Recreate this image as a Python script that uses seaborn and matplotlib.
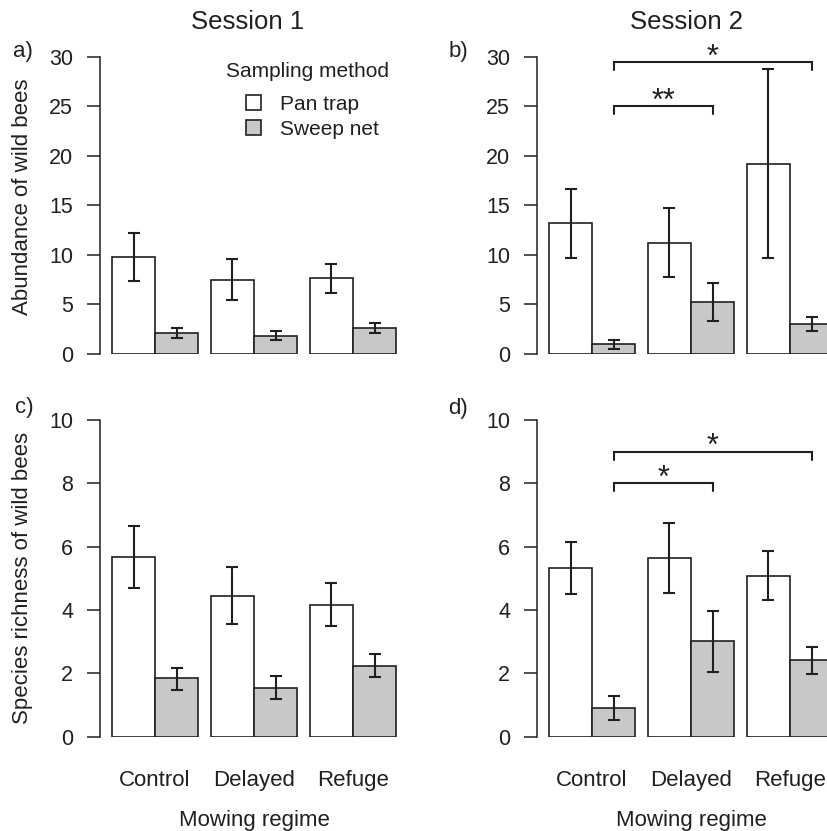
import numpy as np
import pandas as pd
import matplotlib
matplotlib.use("Agg")
import matplotlib.pyplot as plt
from matplotlib.container import BarContainer
import seaborn as sns

# categories
regimes = ["Control", "Delayed", "Refuge"]
methods = ["Pan trap", "Sweep net"]

# a) abundance, session 1
a_pan = [9.8, 7.5, 7.65]
a_pan_lo = [7.4, 5.45, 6.2]
a_pan_hi = [12.2, 9.6, 9.1]
a_sweep = [2.15, 1.85, 2.6]
a_sweep_lo = [1.65, 1.4, 2.15]
a_sweep_hi = [2.6, 2.35, 3.15]

# b) abundance, session 2
b_pan = [13.2, 11.25, 19.2]
b_pan_lo = [9.7, 7.8, 9.65]
b_pan_hi = [16.7, 14.75, 28.8]
b_sweep = [0.98, 5.25, 3.05]
b_sweep_lo = [0.55, 3.3, 2.3]
b_sweep_hi = [1.4, 7.2, 3.75]

# c) species richness, session 1
c_pan = [5.68, 4.45, 4.16]
c_pan_lo = [4.7, 3.56, 3.5]
c_pan_hi = [6.64, 5.37, 4.84]
c_sweep = [1.84, 1.55, 2.24]
c_sweep_lo = [1.48, 1.18, 1.89]
c_sweep_hi = [2.18, 1.92, 2.61]

# d) species richness, session 2
d_pan = [5.33, 5.64, 5.08]
d_pan_lo = [4.52, 4.53, 4.31]
d_pan_hi = [6.16, 6.75, 5.86]
d_sweep = [0.92, 3.01, 2.42]
d_sweep_lo = [0.53, 2.04, 1.98]
d_sweep_hi = [1.29, 3.96, 2.84]

# significance brackets (sweep net: Control vs other regime)
b_brackets = [("Delayed", 25.0, "**"), ("Refuge", 29.5, "*")]
d_brackets = [("Delayed", 8.0, "*"), ("Refuge", 9.0, "*")]

abund_ticks = [0, 5, 10, 15, 20, 25, 30]
rich_ticks = [0, 2, 4, 6, 8, 10]

DARK = "#231f20"
GREY = "#c8c8c8"

sns.set_style("ticks")
plt.rcParams["font.family"] = ["Liberation Sans", "DejaVu Sans"]
plt.rcParams["text.color"] = DARK
plt.rcParams["axes.labelcolor"] = DARK
plt.rcParams["xtick.color"] = DARK
plt.rcParams["ytick.color"] = DARK
plt.rcParams["axes.edgecolor"] = DARK

W, H = 827, 831
fig = plt.figure(figsize=(W / 100, H / 100), dpi=100)


def px_axes(left, top, bottom, width=302.5):
    return fig.add_axes([left / W, (H - bottom) / H, width / W, (bottom - top) / H])


def draw_panel(ax, pan, pan_lo, pan_hi, sweep, sweep_lo, sweep_hi, ticks,
               show_legend=False, brackets=None, drop=0.0):
    df = pd.DataFrame({
        "regime": regimes * 2,
        "method": [methods[0]] * 3 + [methods[1]] * 3,
        "value": list(pan) + list(sweep),
    })
    sns.barplot(data=df, x="regime", y="value", hue="method", order=regimes,
                hue_order=methods, palette=["white", GREY], saturation=1,
                edgecolor=DARK, linewidth=1.2, width=0.87, errorbar=None,
                legend=show_legend, ax=ax)

    means = [pan, sweep]
    los = [pan_lo, sweep_lo]
    his = [pan_hi, sweep_hi]
    centers = {}
    bar_conts = [c for c in ax.containers if isinstance(c, BarContainer)]
    for k, cont in enumerate(bar_conts):
        xs = [b.get_x() + b.get_width() / 2 for b in cont]
        centers[methods[k]] = dict(zip(regimes, xs))
        m = np.array(means[k])
        ax.errorbar(xs, m, yerr=[m - np.array(los[k]), np.array(his[k]) - m],
                    fmt="none", ecolor=DARK, elinewidth=1.5, capsize=4.6,
                    capthick=1.5, clip_on=False, zorder=5)

    ax.set_xlim(-0.556, 2.5)
    ax.set_ylim(ticks[0], ticks[-1])
    ax.set_yticks(ticks)
    sns.despine(ax=ax, bottom=True)
    ax.spines["left"].set_bounds(ticks[0], ticks[-1])
    ax.spines["left"].set_linewidth(1.1)
    ax.tick_params(axis="y", length=9.4, width=1.1, pad=10, labelsize=15.5)
    ax.tick_params(axis="x", length=0, pad=24, labelsize=16)
    ax.set_xlabel("")
    ax.set_ylabel("")

    if brackets:
        x0 = centers["Sweep net"]["Control"]
        for reg, y, lab in brackets:
            x1 = centers["Sweep net"][reg]
            ax.plot([x0, x0, x1, x1], [y - drop, y, y, y - drop], color=DARK,
                    lw=1.5, clip_on=False, solid_joinstyle="miter")
            ax.annotate(lab, xy=((x0 + x1) / 2, y), xytext=(0, -2.5),
                        textcoords="offset points", ha="center", va="baseline",
                        fontsize=22)

    if show_legend:
        handles, labels = ax.get_legend_handles_labels()
        ax.legend(handles, labels, frameon=False,
                  loc="upper center", bbox_to_anchor=(0.702, 0.908),
                  fontsize=15, handlelength=0.7,
                  handleheight=0.7, handletextpad=0.9, labelspacing=0.28,
                  borderpad=0)
        ax.text(0.6876, 0.9495, "Sampling method", transform=ax.transAxes,
                ha="center", va="center", fontsize=15)


ax_a = px_axes(100, 57, 354)
ax_b = px_axes(537, 57, 354)
ax_c = px_axes(100, 420, 736.7)
ax_d = px_axes(537, 420, 736.7)

draw_panel(ax_a, a_pan, a_pan_lo, a_pan_hi, a_sweep, a_sweep_lo, a_sweep_hi,
           abund_ticks, show_legend=True)
draw_panel(ax_b, b_pan, b_pan_lo, b_pan_hi, b_sweep, b_sweep_lo, b_sweep_hi,
           abund_ticks, brackets=b_brackets, drop=0.8)
draw_panel(ax_c, c_pan, c_pan_lo, c_pan_hi, c_sweep, c_sweep_lo, c_sweep_hi,
           rich_ticks)
draw_panel(ax_d, d_pan, d_pan_lo, d_pan_hi, d_sweep, d_sweep_lo, d_sweep_hi,
           rich_ticks, brackets=d_brackets, drop=0.25)

for ax in (ax_a, ax_b):
    ax.set_xticklabels([])

ax_a.set_ylabel("Abundance of wild bees", fontsize=16)
ax_a.yaxis.set_label_coords(-0.222, 0.53)
ax_c.set_ylabel("Species richness of wild bees", fontsize=16)
ax_c.yaxis.set_label_coords(-0.222, 0.5)
for ax in (ax_c, ax_d):
    ax.set_xlabel("Mowing regime", fontsize=16)
    ax.xaxis.set_label_coords(0.51, -0.2315)

fig.text(248 / W, 1 - 29.3 / H, "Session 1", ha="center", va="baseline", fontsize=18.5)
fig.text(686.7 / W, 1 - 29.3 / H, "Session 2", ha="center", va="baseline", fontsize=18.5)
for lab, x, y in [("a)", 13, 57), ("b)", 449, 57), ("c)", 15, 413), ("d)", 448, 414)]:
    fig.text(x / W, 1 - y / H, lab, ha="left", va="baseline", fontsize=16)

fig.savefig("out.png", dpi=100)
